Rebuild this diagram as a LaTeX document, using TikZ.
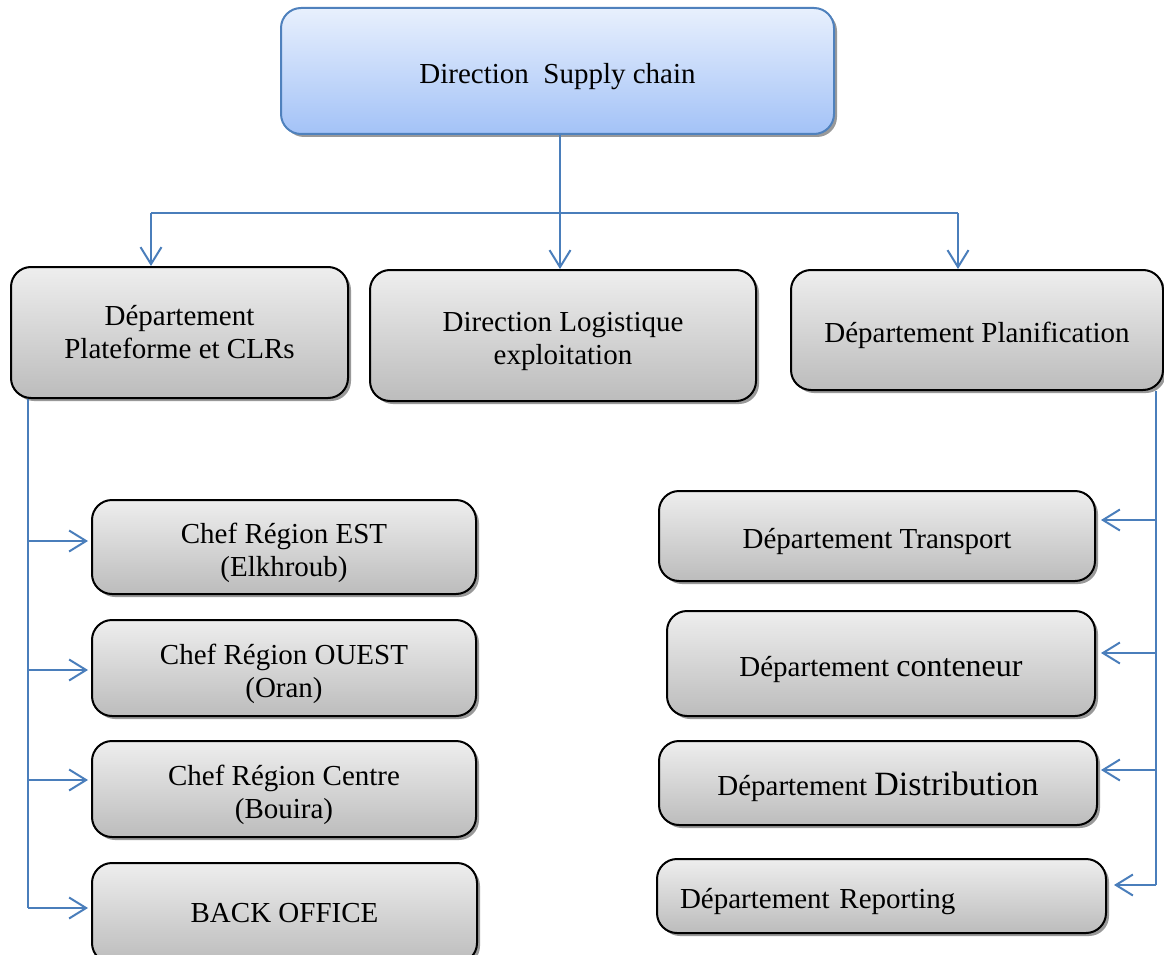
\documentclass[tikz,border=0pt]{standalone}
\usepackage{fontspec}
\setmainfont{Liberation Serif}
\usetikzlibrary{arrows.meta,shadows}

\definecolor{linkblue}{RGB}{74,126,187}
\definecolor{boxtop}{RGB}{238,238,238}
\definecolor{boxbot}{RGB}{188,188,188}
\definecolor{headtop}{RGB}{232,240,253}
\definecolor{headbot}{RGB}{163,194,247}
\definecolor{headedge}{RGB}{79,129,189}

% invisible strut that makes the first text line taller, lowering the block
\newcommand{\toplift}{\rule{0pt}{32pt}}

\tikzset{
  unitbox/.style={draw=black, line width=2pt, rounded corners=20pt,
    top color=boxtop, bottom color=boxbot,
    drop shadow={shadow xshift=3pt, shadow yshift=-3pt, fill=black, opacity=0.4},
    inner sep=0pt, align=center, font=\fontsize{29}{33}\selectfont},
  headbox/.style={unitbox, draw=headedge, top color=headtop, bottom color=headbot},
  link/.style={draw=linkblue, line width=2pt},
  linkarrow/.style={link, -{Straight Barb[length=17pt, width=21pt, line width=2pt]}},
}

\begin{document}
\begin{tikzpicture}[x=1pt, y=-1pt]
  \useasboundingbox (0,0) rectangle (1164,955);
  \clip (0,0) rectangle (1164,955);

  % head of the chart
  \node[headbox, minimum width=553pt, minimum height=126pt] (top) at (557.5,71)
    {\toplift Direction\ \ Supply chain};

  % second level
  \node[unitbox, minimum width=337pt, minimum height=131pt] (plat) at (179.5,332.5)
    {Département\\Plateforme et CLRs};
  \node[unitbox, minimum width=386pt, minimum height=131pt] (logi) at (563,335.5)
    {\toplift Direction Logistique\\exploitation};
  \node[unitbox, minimum width=372pt, minimum height=120pt] (plan) at (977,330)
    {\toplift Département Planification};

  % regions under the platform department
  \node[unitbox, minimum width=384pt, minimum height=94pt] (est) at (284,547)
    {\toplift Chef Région EST\\(Elkhroub)};
  \node[unitbox, minimum width=384pt, minimum height=96pt] (ouest) at (284,668)
    {\toplift Chef Région OUEST\\(Oran)};
  \node[unitbox, minimum width=384pt, minimum height=96pt] (centre) at (284,789)
    {\toplift Chef Région Centre\\(Bouira)};
  \node[unitbox, minimum width=385pt, minimum height=100pt] (back) at (284.5,913)
    {BACK OFFICE};

  % departments under planning
  \node[unitbox, minimum width=436pt, minimum height=90pt] (transport) at (877,536)
    {\toplift Département Transport};
  \node[unitbox, minimum width=428pt, minimum height=105pt] (conteneur) at (881,663.5)
    {\toplift Département {\fontsize{32}{33}\selectfont conteneur}};
  \node[unitbox, minimum width=438pt, minimum height=84pt] (distrib) at (878,783)
    {\toplift Département {\fontsize{34}{33}\selectfont Distribution}};
  \node[unitbox, minimum height=74pt, text width=403pt, inner xsep=23pt, align=left]
    (report) at (881.5,896) {\toplift Département Reporting};

  % top distribution line
  \coordinate (jmid) at (560,213);
  \coordinate (jleft) at (151,213);
  \coordinate (jright) at (958,213);
  \draw[link] (top.south -| jmid) -- (jmid);
  \draw[link] (jleft) -- (jright);
  \draw[linkarrow] (jleft) -- (jleft |- plat.north);
  \draw[linkarrow] (jmid) -- (jmid |- logi.north);
  \draw[linkarrow] (jright) -- (jright |- plan.north);

  % entry points on the side of each box
  \coordinate (estin) at ([yshift=6pt]est.west);
  \coordinate (ouestin) at ([yshift=-2pt]ouest.west);
  \coordinate (centrein) at ([yshift=9pt]centre.west);
  \coordinate (backin) at ([yshift=5pt]back.west);
  \coordinate (transin) at ([yshift=16pt]transport.east);
  \coordinate (contin) at ([yshift=10.5pt]conteneur.east);
  \coordinate (distin) at ([yshift=13pt]distrib.east);
  \coordinate (repin) at ([yshift=11pt]report.east);

  % left trunk
  \coordinate (ltrunk) at (28,0);
  \draw[link] (plat.south -| ltrunk) -- (ltrunk |- backin);
  \draw[linkarrow, shorten >=3pt] (ltrunk |- estin) -- (estin);
  \draw[linkarrow, shorten >=3pt] (ltrunk |- ouestin) -- (ouestin);
  \draw[linkarrow, shorten >=3pt] (ltrunk |- centrein) -- (centrein);
  \draw[linkarrow, shorten >=3pt] (ltrunk |- backin) -- (backin);

  % right trunk
  \coordinate (rtrunk) at (1156,0);
  \draw[link] (plan.south -| rtrunk) -- (rtrunk |- repin);
  \draw[linkarrow, shorten >=5pt] (rtrunk |- transin) -- (transin);
  \draw[linkarrow, shorten >=5pt] (rtrunk |- contin) -- (contin);
  \draw[linkarrow, shorten >=3pt] (rtrunk |- distin) -- (distin);
  \draw[linkarrow, shorten >=7pt] (rtrunk |- repin) -- (repin);
\end{tikzpicture}
\end{document}
